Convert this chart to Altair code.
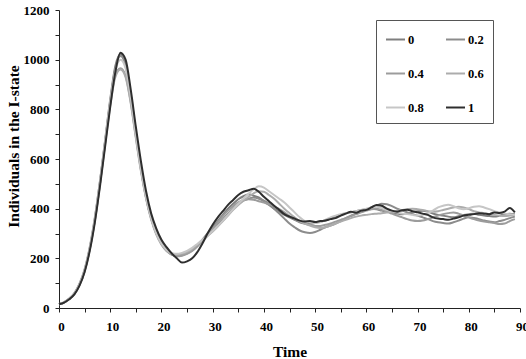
import altair as alt
import pandas as pd

names = ["0", "0.2", "0.4", "0.6", "0.8", "1"]
colors = ["#7f7f7f", "#8c8c8c", "#9c9c9c", "#acacac", "#c6c6c6", "#2e2e2e"]

s_0 = [15, 23, 37, 58, 95, 152, 240, 360, 510, 675, 840, 975, 1022, 975, 850, 700, 560, 445, 360, 300,
       260, 232, 215, 210, 212, 220, 232, 250, 275, 300, 325, 350, 375, 400, 420, 438, 450, 458, 452, 445,
       430, 415, 400, 388, 375, 365, 355, 345, 340, 338, 342, 348, 352, 360, 368, 375, 382, 385, 390, 395,
       398, 400, 398, 392, 388, 385, 380, 378, 380, 385, 390, 392, 388, 380, 375, 372, 368, 365, 370, 375,
       378, 380, 375, 372, 370, 368, 372, 378, 380, 378]
s_02 = [15, 22, 36, 57, 92, 148, 235, 352, 500, 665, 830, 965, 1015, 980, 860, 710, 570, 455, 368, 305,
        262, 235, 218, 212, 215, 222, 235, 252, 272, 292, 312, 335, 358, 380, 400, 418, 432, 440, 445, 440,
        432, 420, 400, 380, 360, 340, 325, 312, 305, 302, 306, 315, 325, 332, 340, 350, 362, 372, 380, 388,
        395, 405, 412, 420, 418, 410, 400, 392, 385, 378, 372, 365, 358, 350, 345, 342, 340, 345, 352, 360,
        365, 362, 358, 352, 348, 345, 350, 355, 362, 368]
s_04 = [16, 24, 38, 60, 98, 156, 245, 365, 510, 670, 825, 940, 965, 935, 830, 690, 555, 445, 360, 300,
        258, 230, 215, 208, 210, 218, 230, 248, 270, 292, 318, 345, 370, 392, 410, 425, 435, 438, 436, 430,
        425, 418, 410, 398, 385, 370, 358, 348, 340, 335, 330, 330, 335, 340, 348, 355, 362, 370, 378, 385,
        392, 398, 400, 395, 388, 380, 372, 365, 358, 352, 350, 352, 358, 365, 372, 378, 382, 385, 380, 372,
        365, 358, 352, 348, 345, 342, 338, 340, 350, 358]
s_06 = [15, 23, 37, 58, 94, 150, 238, 355, 500, 660, 815, 930, 960, 930, 825, 685, 550, 440, 355, 295,
        255, 230, 218, 215, 218, 225, 238, 255, 272, 290, 308, 328, 350, 372, 395, 415, 432, 448, 462, 470,
        468, 455, 440, 420, 400, 382, 365, 350, 340, 332, 325, 322, 325, 332, 340, 348, 355, 362, 368, 372,
        375, 378, 380, 382, 385, 388, 392, 395, 398, 400, 398, 395, 390, 388, 390, 395, 400, 405, 408, 405,
        398, 390, 385, 382, 378, 375, 372, 370, 372, 375]
s_08 = [15, 22, 36, 57, 93, 150, 238, 356, 505, 670, 830, 955, 1000, 965, 850, 700, 560, 448, 362, 300,
        260, 235, 222, 218, 222, 230, 242, 258, 275, 292, 310, 330, 352, 375, 398, 420, 440, 460, 478, 490,
        485, 470, 455, 440, 425, 405, 385, 365, 350, 345, 342, 345, 355, 365, 372, 378, 382, 385, 390, 395,
        400, 405, 408, 402, 395, 390, 385, 380, 378, 375, 372, 375, 382, 392, 405, 412, 416, 410, 402, 398,
        402, 408, 410, 405, 398, 390, 385, 380, 378, 375]
s_1 = [15, 22, 35, 55, 90, 145, 230, 345, 490, 650, 810, 950, 1028, 1000, 880, 730, 590, 470, 380, 320,
       275, 245, 220, 200, 183, 188, 200, 225, 260, 300, 335, 365, 390, 415, 435, 455, 468, 474, 480, 468,
       448, 430, 412, 395, 378, 368, 360, 352, 348, 350, 346, 350, 352, 358, 362, 372, 380, 388, 384, 392,
       395, 405, 415, 412, 400, 392, 388, 394, 396, 390, 385, 380, 375, 365, 360, 358, 355, 360, 365, 372,
       375, 378, 382, 380, 378, 385, 383, 388, 403, 385]

series = [s_0, s_02, s_04, s_06, s_08, s_1]
rows = []
for name, vals in zip(names, series):
    for t, v in enumerate(vals):
        rows.append({"t": t, "v": v, "s": name})
df = pd.DataFrame(rows)

FONT = "Times New Roman, Liberation Serif, serif"

chart = alt.Chart(df).mark_line(strokeWidth=2, interpolate="monotone").encode(
    x=alt.X("t:Q", scale=alt.Scale(domain=[0, 90], nice=False),
            axis=alt.Axis(values=list(range(0, 91, 5)),
                          labelExpr="datum.value % 10 == 0 ? datum.label : ''",
                          title="Time", grid=False, labelFlush=False, labelOverlap=False,
                          labelOffset=2,
                          tickSize=4, labelPadding=8, titleY=48, titleBaseline="alphabetic")),
    y=alt.Y("v:Q", scale=alt.Scale(domain=[0, 1200], nice=False),
            axis=alt.Axis(values=list(range(0, 1201, 100)), format="d",
                          labelExpr="datum.value % 200 == 0 ? datum.label : ''",
                          title="Individuals in the I-state", grid=False, labelOverlap=False,
                          tickSize=4, labelPadding=6, titleX=-46, titleY=136,
                          titleAngle=-90, titleAlign="center", titleBaseline="middle")),
    color=alt.Color("s:N", scale=alt.Scale(domain=names, range=colors),
                    legend=alt.Legend(title=None, orient="none", legendX=317, legendY=10,
                                      columns=2, direction="horizontal",
                                      symbolType="stroke", symbolSize=361,
                                      symbolStrokeWidth=2, rowPadding=17, columnPadding=18,
                                      labelOffset=2, padding=9, strokeColor="#555",
                                      labelFont=FONT, labelFontSize=12.5, labelFontWeight="bold",
                                      labelColor="#000")),
    order=alt.Order("s:N")
).properties(
    width=461, height=298,
    padding={"left": 59, "top": 10, "right": 6, "bottom": 51},
    autosize=alt.AutoSizeParams(type="none"),
    background="white"
).configure_axis(
    domainColor="#222", tickColor="#222", labelFont=FONT, labelFontSize=13,
    labelFontWeight="bold", labelColor="#000", titleFont=FONT, titleFontSize=15.5,
    titleFontWeight="bold", titleColor="#000"
).configure_view(stroke=None)

chart.save("out.html", embed_options={"renderer": "svg", "actions": False})
